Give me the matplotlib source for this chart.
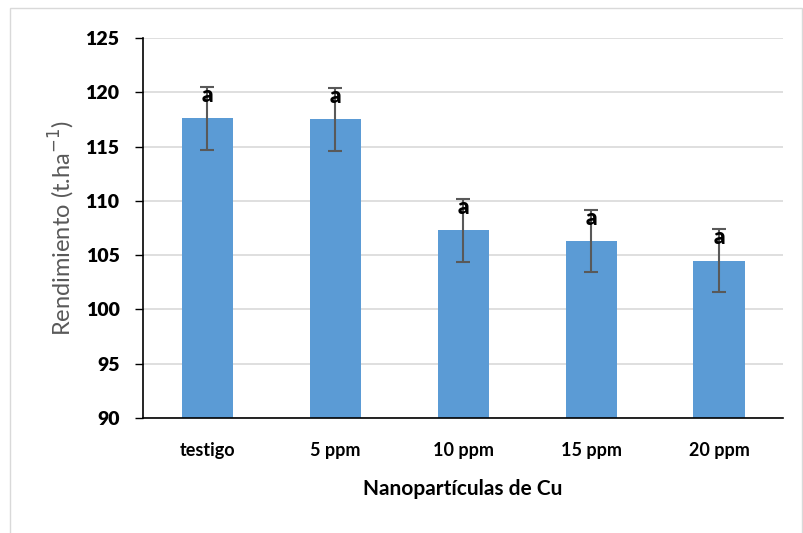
import matplotlib.pyplot as plt
from matplotlib.patches import Rectangle

# datos
tratamientos = ['testigo', '5 ppm', '10 ppm', '15 ppm', '20 ppm']
rendimiento = [117.6, 117.5, 107.3, 106.3, 104.5]
error = [2.9, 2.9, 2.9, 2.9, 2.9]
letras = ['a', 'a', 'a', 'a', 'a']

plt.rcParams['font.family'] = ['Lato', 'DejaVu Sans']

fig = plt.figure(figsize=(8.04, 5.33), dpi=100)
ax = fig.add_axes([0.178, 0.2158, 0.796, 0.713])

x = range(len(tratamientos))
ax.bar(x, rendimiento, width=0.4, color='#5B9BD5', zorder=2)
ax.errorbar(x, rendimiento, yerr=error, fmt='none', ecolor='#595959',
            elinewidth=1.5, capsize=5, capthick=1.5, zorder=3)

for i, (v, e, l) in enumerate(zip(rendimiento, error, letras)):
    ax.text(i, v + e + 0.15, l, ha='center', va='top', fontsize=16,
            fontweight='heavy', zorder=4)

ax.set_xlim(-0.5, len(tratamientos) - 0.5)
ax.set_ylim(90, 125)
ax.set_yticks(range(90, 126, 5))
ax.yaxis.grid(True, color='#D9D9D9', linewidth=1.2, zorder=0)
ax.set_axisbelow(True)

ax.set_xticks(list(x))
ax.set_xticklabels(tratamientos, fontsize=13, fontweight='bold')
ax.tick_params(axis='x', length=0, pad=17)
ax.tick_params(axis='y', length=6, width=1, direction='out', labelsize=14, pad=11)
for lab in ax.get_yticklabels():
    lab.set_fontweight('heavy')

for s in ['top', 'right']:
    ax.spines[s].set_visible(False)
ax.spines['left'].set_color('black')
ax.spines['bottom'].set_color('black')
ax.spines['left'].set_linewidth(1.2)
ax.spines['bottom'].set_linewidth(1.2)

ax.set_xlabel('Nanopartículas de Cu', fontsize=15, fontweight='bold', labelpad=15)
ax.set_ylabel('Rendimiento (t.ha$^{-1}$)', fontsize=17, color='#595959', labelpad=6)

# marco exterior
fig.patches.append(Rectangle((0.013, -0.01), 0.984, 0.995, transform=fig.transFigure,
                             fill=False, edgecolor='#D9D9D9', linewidth=1))

fig.savefig('out.png', dpi=100)
